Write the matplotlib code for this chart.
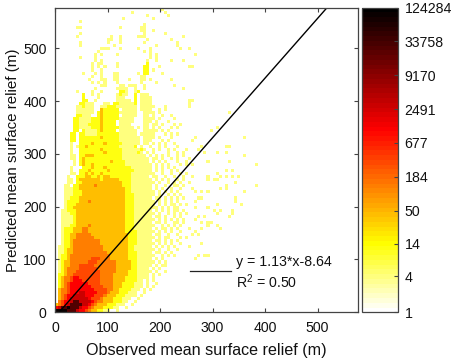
import matplotlib
matplotlib.use("Agg")
import matplotlib.pyplot as plt
import numpy as np
from matplotlib.colors import LinearSegmentedColormap, LogNorm

plt.rcParams['font.family'] = ['Liberation Sans', 'DejaVu Sans']

# Bin counts, coded by colour class; first line = top row (bin 99), last = bin 0
count_of_class = {'.': np.nan, 'a': 3.8, 'b': 13, 'c': 40, 'd': 125, 'e': 350, 'f': 1100, 'g': 2900, 'h': 27000, 'i': 100000}
rows_upper = [
 ".......... .......... .......... .....a",
 ".......... .......... .....a.... ......a",
 ".......... .......... .......... a......a",
 ".......... .......... ..a....... ..a",
 "........a.",
 ".......... .......... .........a",
 ".......aa. .......... .a......aa",
 ".......... .......... ........aa ..a",
 "........a. .......... .........a ......a",
 ".......a.. ........a. .a.....aaa .......... ..a",
 ".......... .......aa. .a........ a.......a.",
 "........a. .......a.. .a.......a .......... a",
 "........a. .........a .......... ...a...... a",
 ".......... .....aaa.. .a.....a.. .a........ .a..a",
 ".......... ....a..... .........a .a........ ",
 ".......... ...a.a.... a......... .a.a...... ......a",
 "........a. ...a...... .......... .a.a",
 ".......... ...a.a.... .......... a..a....a. ..a",
 ".......... ..a.aa.... a......... b",
 ".......... ..a.a.a... a........b b...a..... ....aa",
 ".......... ..a..a.... .........b b.a",
 ".........a ...a.a...a a......a.b b....a",
 ".......... ..a..a...a a.......aa ",
 ".......... .a...aa..a a...a...aa .a......a.",
 ".......... ..a.a.a... a.......a. ...a",
 ".......... .....aa... .aa.aaa..a .........a",
 ".......... ...a...... aaaa..a..a .......... ..a",
 ".......a.. ..a..a.... .bba..ab..",
 ".........b ..a.a..... abaa..b.aa a",
 ".........b ....a..... aaa...b.aa aa",
 ".........b b..a...... aaaaa.b.aa aa........ ....aa",
 "........bb aaa...aa.b baaaaab.aa aa........ ....a",
 ".......aab aaa..aabbb aaaaaaa.aa aaa...a... ....a",
 ".......aaa aaa..cbbbb b.aaaaa.aa aa..a.a...",
 ".......aaa aaa.bcbbbb baaaaaa..a aaa.a..... .......... .......a",
 ".......bba aa..bcbbbb b.aaaaa..a a.a..a..a.",
 "......bbaa aabbbcbbbb baaaaa...a aaa.a....a",
 "......bbaa aabbbcbbbb .aaaaa...a aa.a...a..",
 "......bbaa abbbbcbbbb .aaaa....a a.aa.a...a .a",
 "......bbaa aabbbcbbbb baaaaa.a.a a.a.a...a. a........... .a",
 "......bb.b aaaabcbbbb .aaaaaa..a aaaa.a.a.. .......... .a",
 ".....bb.bb aaaabbbbbb baaaaaa.aa aaa...a.a. a",
 ".....bb.bb bbbbbcbbbb baaaaaaa.a aaa.a...a. ......a... .......... ..a",
 ".....bb.bb bbbbbbbbbb baaaaaaa.a aa...a.a.. .....a",
 ".....a..bb bbcbbbcbbb bbaaaaaa.a a.a.a.a..a",
 ".....a.abb cbbbbbbbbb baaaaab.a. .a..a.a... a.......a. ......aa",
 ".....a..bb bbbbbcbbbb bbaaaaaaba ..a.a..a.a ...a...a..",
 ".....a..bb bbbbbbcbbb bbaaaaaba. a.a....a.. a.a......a ...a..a...",
 ".....aa.bb cccbbbbbbb bbaaaaaaaa .a.a.a.a.. a.a....... .......... ..a",
 ".....aa.bc bbbbbbbbbb bbaaaaaaaa a.aa.a..a. a...a.....",
 "......a.bc bbbbbbbbcb bbbaaaaaaa a.a.a.a... a..a...... a......a..",
 "......a.bc bbcbbbbbbb bbbaaaaaaa aa.a.a.a.. .a.a.a.... .......... ......a",
 ".....a...b bbcbbbcbbb bbbbbaaaaa aa.a.a.a.a ",
 ".....a..bb bcbbbbbcbb bbbbbbaaaa aa.a.a..a. a......... ......a.a.",
 ".....aa.bb cbcbbcbbbb bbbbbaaaaa aaa..a..a. .a.a...... ...a......",
 "....a..bbb ccbbcbccbb bbbbbaaaaa a.aa..a..a ..a..a.... a...a.a.a. a",
 "....aa.bcc cccccbcccc cbbbbaaaaa aa.a.a.a.. a.a....... a.aa......",
 "....aa.bbc cccccccccc ccbbbaaaaa aaa.a..a.a .a..a..... .........a",
 "...aa.bbcc cccdcccccc ccbbbaaaaa aa.a..a..a a.a....... ......a... ......a",
 "...aaabbcc cccccccccc cccbbaaaaa aa.a.a..a. .a...a.... ....a.a...",
 "...aaabbbc cccccccccc cccbbaaaaa aaa.a.a.a. a.....a.a. a......... ..a",
 "...aaabbbc cccccccccc cccbbbaaaa aaa.a..a.a .a........",
 "...aabbbcc cccccccccc cccbbbaaaa aa.aa.a.a. a.a....aa. .........a",
 "...abbbbcc cdcccccccc cccbbbaaaa aaa.a.a.a. a.....a... .........a",
 "...abbbccc cccccccccc cccbbbaaaa aaa.a.a.aa .a.a...... ...a...... .a",
 "...abbcccc cccccccccc cccbbbaaaa aaaa.a.a.a a.....a... a",
 "..aabbbccc cccccccccc cccbbbaaaa aa.a.a.a.a a.a....... ..a.a...a.",
 "..aaabbccc cccccccccc cccbbbaaaa aaa.a..a.a .a.a...... ...a....a.",
 "..aaaabccc cccccccccc cccbbbaaaa aa.aa.a..a .a.....a.a .......a..",
 "..aaaabccc cccccccccc cccbbbaaaa aaa.a.a.a. a.a...a...",
 "..aaaabccc cccccccccc cccbbbaaaa aa.aa.a..a a.a.....a. aa",
 "..aaabbccc cdcccccccc cccbbbaaaa aaa..a.a.a .a........ a..a",
 "..abbbcccd dccccccccc cccbbbaaaa aa.a.aa.a. a...a...a. ....a",
 "..abbbcccd dccccccccc cccbbbbaaa aaa.a.a.a. .a....a...",
 "..abbccddd ddcccccccc ccccbbbaaa aa.aa..a.. a....a.a..",
 "..abbccddd dddccccccc ccccbbbaaa aaa.a.aa.. .a.a......",
 "..abbcdddd dddddccccc ccccbbbaaa aa.aa.a.a. a.........",
 "..abbcdddd dddddccccc ccccbbbaaa aaa.a.a.a. .a......a.",
 ".aabbcdddd ddddddcccc ccccbbaaaa aa.a.a.a.a ....a.....",
 ".aabccdddd ddddddcccc ccccbbaaaa aaa.a..a.. a.........",
 ".aabccdddd dddddddccc ccccbbbaaa aa.aa.a.a. ..........",
 ".abbcddddd ddddddddcc ccccbbbaaa aaa..a.a.a .......a.a a",
 ".abbcddddd ddeeedddcc ccccbbbaaa aa.a.a.... ......a...",
 ".abccddddd deeedddddd cccccbbaaa aaa.a.a...",
 ".abccdddee eeeddddddd cccccbbaaa aa.a.aa...",
 ".abcddddee eeeedddddd cccccbbaaa a.a.a.....",
 ".abcdddeee eeeeeddddd ccccbbbaaa aa.a..a",
 ".bbcddeeee eeeeeddddc ccccbbbaaa a.a.a.",
 ".bcddeffee eeeeeddddc cccbbbbaaa a.a.",
 ".bcddefffe eeeeeddddc cccbbbbaa. a.a",
 ".bcdefffff feeeeddddc ccbbbbaaa. a..a",
 ".bcdefffff ffeeeedddc ccbbbbaaa. a.a",
 ".cddefffff fffeeeeddc cbbbbaaa.a .a",
 ".cddefffgg ffffeeedcc cbbbaaa..a",
 ".cdeffgggg fffeeedccc bbbaaaa.a.",
 ".cdefggggg gfeeedcccb bbaaa..a",
 ".deffghhgg ggfeddcccb bbaa..a",
 "cdefghhhhg gfedcccbbb aaa..a",
 "fghhihhhgf fedcccbbba a..a",
 "iiiihhhgff edccbbaa.. a",
]
x_ticks = [0, 100, 200, 300, 400, 500]
y_ticks = [0, 100, 200, 300, 400, 500]
cbar_ticks = [1, 4, 14, 50, 184, 677, 2491, 9170, 33758, 124284]
fit_slope, fit_intercept = 1.13, -8.64
bin_width = 5.77
axis_max = 577

counts = np.full((100, 100), np.nan)
for n, row in enumerate(rows_upper[:100]):
    for j, ch in enumerate(row.replace(' ', '')[:100]):
        counts[99 - n, j] = count_of_class[ch]

cmap = LinearSegmentedColormap.from_list('whot', [(0, '#ffffff'), (0.22, '#ffff00'), (0.6, '#ff0000'), (1, '#000000')], N=64)
norm = LogNorm(vmin=1, vmax=124284)

W, H = 454, 362
fig = plt.figure(figsize=(W/100, H/100), dpi=100)
ax = fig.add_axes([55/W, (H-312.3)/H, 303/W, 304.8/H])
edges = np.arange(101) * bin_width
mesh = ax.pcolormesh(edges, edges, np.ma.masked_invalid(counts), cmap=cmap, norm=norm)
ax.set_xlim(0, axis_max); ax.set_ylim(0, axis_max)
xl = np.array([-fit_intercept/fit_slope, (axis_max-fit_intercept)/fit_slope])
ax.plot(xl, fit_slope*xl+fit_intercept, color='k', lw=1.0)
ax.plot([257, 336], [79, 79], color='#222222', lw=0.9)
ax.text(345, 95, 'y = 1.13*x-8.64', fontsize=10.2, va='center', color='#111111')
ax.text(345, 57, 'R$\\mathregular{^2}$ = 0.50', fontsize=10.2, va='center', color='#111111')
ax.set_xticks(x_ticks); ax.set_yticks(y_ticks)
ax.tick_params(direction='in', top=True, right=True, length=3, width=0.8, color='#444444', labelsize=10.2, labelcolor='#111111')
ax.tick_params(axis='y', pad=6)
ax.tick_params(axis='x', pad=6)
ax.set_xlabel('Observed mean surface relief (m)', fontsize=11.6, labelpad=6, color='#111111')
ax.set_ylabel('Predicted mean surface relief (m)', fontsize=10.9, labelpad=2, color='#111111')
for s in ax.spines.values():
    s.set_color('#444444'); s.set_linewidth(0.9)

cax = fig.add_axes([362.3/W, (H-312.3)/H, 35.4/W, 304.8/H])
cb = fig.colorbar(mesh, cax=cax)
cb.set_ticks(cbar_ticks, labels=[str(t) for t in cbar_ticks])
cb.minorticks_off()
cax.tick_params(direction='in', length=3, width=0.8, color='#444444', labelsize=10.2, pad=5, labelcolor='#111111')
cb.outline.set_edgecolor('#444444'); cb.outline.set_linewidth(0.9)

fig.savefig('out.png', dpi=100)
